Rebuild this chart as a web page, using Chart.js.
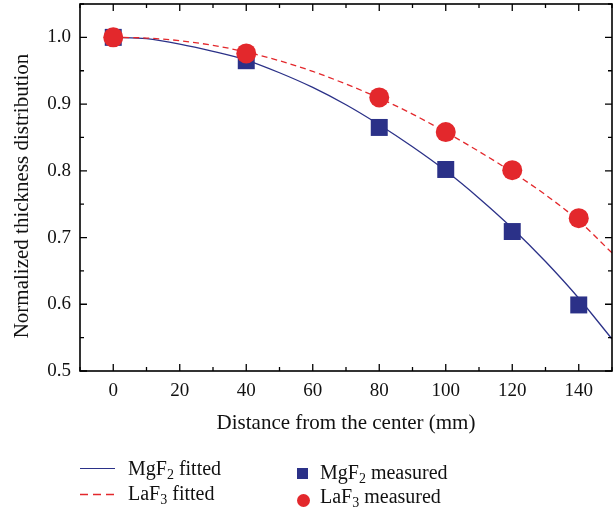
<!DOCTYPE html>
<html>
<head>
<meta charset="utf-8">
<script src="https://cdn.jsdelivr.net/npm/chart.js@4"></script>
<style>
  body { margin: 0; background: #fff; }
  #wrap { position: relative; width: 615px; height: 513px; overflow: hidden; font-family: "Liberation Serif", "DejaVu Serif", serif; }
  #wrap canvas { position: absolute; left: 0; top: -8px; }
  .legend { position: absolute; left: 0; top: 0; font-size: 20px; color: #111; white-space: nowrap; }
  .legend sub { font-size: 14px; vertical-align: -4px; line-height: 0; }
  .item { position: absolute; height: 22px; line-height: 22px; }
  .sample { position: absolute; }
</style>
</head>
<body>
<div id="wrap">
  <canvas id="chart" width="624" height="521"></canvas>
  <div class="legend">
    <div class="item" style="left:80px; top:457px;">
      <div class="sample" style="left:0; top:11px; width:35px; border-top:1.3px solid #2b3188;"></div>
      <span style="position:absolute; left:48px;">MgF<sub>2</sub> fitted</span>
    </div>
    <div class="item" style="left:80px; top:482px;">
      <svg class="sample" style="left:0; top:11px;" width="36" height="3"><line x1="0" y1="1.5" x2="36" y2="1.5" stroke="#e3282c" stroke-width="1.3" stroke-dasharray="8 5"/></svg>
      <span style="position:absolute; left:48px;">LaF<sub>3</sub> fitted</span>
    </div>
    <div class="item" style="left:297px; top:461px;">
      <div class="sample" style="left:0; top:7px; width:11px; height:11px; background:#2b3188;"></div>
      <span style="position:absolute; left:23px;">MgF<sub>2</sub> measured</span>
    </div>
    <div class="item" style="left:297px; top:485px;">
      <div class="sample" style="left:0; top:9px; width:13px; height:13px; border-radius:50%; background:#e3282c;"></div>
      <span style="position:absolute; left:23px;">LaF<sub>3</sub> measured</span>
    </div>
  </div>
</div>
<script>
// measured points (mm, normalized thickness)
const measuredX = [0, 40, 80, 100, 120, 140];
const mgf2Measured = [1.0, 0.965, 0.865, 0.802, 0.709, 0.599];
const laf3Measured = [1.0, 0.976, 0.910, 0.858, 0.801, 0.729];

// fitted curves, read every 10 mm
const fitX = [0, 10, 20, 30, 40, 50, 60, 70, 80, 90, 100, 110, 120, 130, 140, 150];
const mgf2Fit = [1.0, 0.998, 0.990, 0.979, 0.966, 0.947, 0.925, 0.899, 0.869, 0.836, 0.800, 0.759, 0.714, 0.664, 0.609, 0.548];
const laf3Fit = [1.0, 0.999, 0.995, 0.988, 0.978, 0.965, 0.949, 0.930, 0.909, 0.885, 0.858, 0.829, 0.798, 0.764, 0.725, 0.677];

const xTicks = [0, 20, 40, 60, 80, 100, 120, 140];
const yTicks = [0.5, 0.6, 0.7, 0.8, 0.9, 1.0];
const yTitle = 'Normalized thickness distribution';

const BLUE = '#2b3188';
const RED = '#e3282c';
const FONT = '"Liberation Serif", "DejaVu Serif", serif';

const pts = (xs, ys) => xs.map((x, i) => ({ x: x, y: ys[i] }));

// box frame with inward major/minor ticks on all four sides
const frameTicks = {
  id: 'frameTicks',
  afterDraw(chart) {
    const { ctx, chartArea: a, scales: { x, y } } = chart;
    ctx.save();
    ctx.strokeStyle = '#000';
    ctx.lineWidth = 1.3;
    ctx.beginPath();
    for (let v = -10; v <= 150; v += 10) {
      const px = x.getPixelForValue(v);
      const len = v % 20 === 0 ? 7 : 4;
      ctx.moveTo(px, a.bottom);
      ctx.lineTo(px, a.bottom - len);
      ctx.moveTo(px, a.top);
      ctx.lineTo(px, a.top + len);
    }
    for (let i = 0; i <= 11; i++) {
      const py = y.getPixelForValue(0.5 + i * 0.05);
      const len = i % 2 === 0 ? 7 : 4;
      ctx.moveTo(a.left, py);
      ctx.lineTo(a.left + len, py);
      ctx.moveTo(a.right, py);
      ctx.lineTo(a.right - len, py);
    }
    ctx.stroke();
    ctx.lineWidth = 1.6;
    ctx.strokeRect(a.left, a.top, a.right - a.left, a.bottom - a.top);

    // rotated y axis title, centred a little below the plot middle
    ctx.translate(22, a.top + 192);
    ctx.rotate(-Math.PI / 2);
    ctx.fillStyle = '#111';
    ctx.font = '21px ' + FONT;
    ctx.textAlign = 'center';
    ctx.textBaseline = 'middle';
    ctx.fillText(yTitle, 0, 0);
    ctx.restore();
  }
};

new Chart(document.getElementById('chart'), {
  type: 'scatter',
  data: {
    datasets: [
      {
        label: 'LaF3 measured',
        data: pts(measuredX, laf3Measured),
        pointStyle: 'circle',
        pointRadius: 10,
        backgroundColor: RED,
        borderColor: RED,
        borderWidth: 0,
        order: 0
      },
      {
        label: 'MgF2 measured',
        data: pts(measuredX, mgf2Measured),
        pointStyle: 'rect',
        pointRadius: 12,
        backgroundColor: BLUE,
        borderColor: BLUE,
        borderWidth: 0,
        order: 1
      },
      {
        label: 'LaF3 fitted',
        data: pts(fitX, laf3Fit),
        showLine: true,
        borderColor: RED,
        borderWidth: 1.3,
        borderDash: [6, 4],
        pointRadius: 0,
        cubicInterpolationMode: 'monotone',
        order: 2
      },
      {
        label: 'MgF2 fitted',
        data: pts(fitX, mgf2Fit),
        showLine: true,
        borderColor: BLUE,
        borderWidth: 1.3,
        pointRadius: 0,
        cubicInterpolationMode: 'monotone',
        order: 3
      }
    ]
  },
  options: {
    responsive: false,
    animation: false,
    layout: { padding: { left: 0, right: 3, top: 4, bottom: 80 } },
    plugins: {
      legend: { display: false },
      tooltip: { enabled: false }
    },
    scales: {
      x: {
        type: 'linear',
        min: -10,
        max: 150,
        afterBuildTicks: s => { s.ticks = xTicks.map(v => ({ value: v })); },
        afterFit: s => { s.height = 62; s.paddingLeft = 0; s.paddingRight = 0; },
        grid: { display: false, drawTicks: false },
        border: { display: false },
        ticks: { color: '#111', padding: 9, font: { family: FONT, size: 19 }, maxRotation: 0 },
        title: {
          display: true,
          text: 'Distance from the center (mm)',
          color: '#111',
          font: { family: FONT, size: 21 },
          padding: { top: 4, bottom: -3 }
        }
      },
      y: {
        min: 0.5,
        max: 1.05,
        afterBuildTicks: s => { s.ticks = yTicks.map(v => ({ value: v })); },
        afterFit: s => { s.width = 80; s.paddingTop = 0; s.paddingBottom = 0; },
        grid: { display: false, drawTicks: false },
        border: { display: false },
        ticks: {
          color: '#111',
          padding: 9,
          font: { family: FONT, size: 19 },
          callback: v => v.toFixed(1)
        }
      }
    }
  },
  plugins: [frameTicks]
});
</script>
</body>
</html>
